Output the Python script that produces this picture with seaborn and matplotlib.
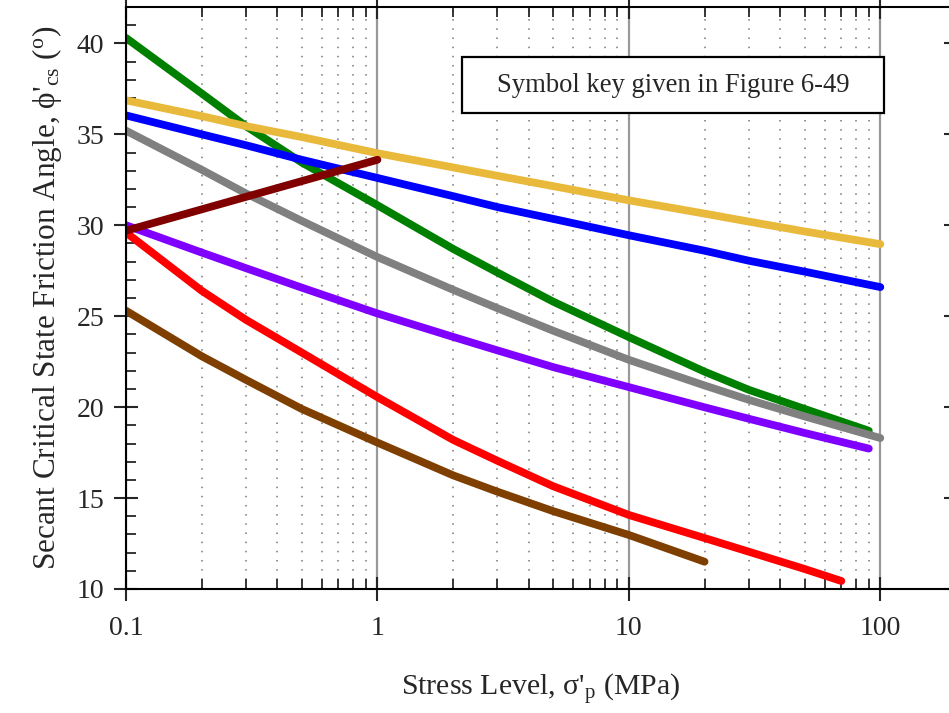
import numpy as np
import pandas as pd
import matplotlib
matplotlib.use("Agg")
import matplotlib.pyplot as plt
from matplotlib.patches import Rectangle
from matplotlib.ticker import LogLocator, FixedLocator, NullFormatter, FuncFormatter, MultipleLocator
import seaborn as sns

# ---- data: secant critical state friction angle vs. stress level ----
stress = [0.1, 0.2, 0.3, 0.5, 1, 2, 3, 5, 10, 20, 30, 50]

phi_green = [40.3, 37.25, 35.45, 33.45, 31.1, 28.7, 27.4, 25.8, 23.85, 21.95, 20.95, 19.9]
stress_green_end, phi_green_end = 90, 18.7

phi_yellow = [36.87, 36.0, 35.45, 34.85, 33.96, 33.18, 32.72, 32.15, 31.37, 30.64, 30.2, 29.66]
stress_yellow_end, phi_yellow_end = 100, 28.96

phi_blue = [36.04, 35.0, 34.4, 33.6, 32.6, 31.6, 31.0, 30.35, 29.45, 28.6, 28.05, 27.45]
stress_blue_end, phi_blue_end = 100, 26.6

phi_gray = [35.2, 33.05, 31.75, 30.24, 28.25, 26.45, 25.44, 24.2, 22.6, 21.19, 20.4, 19.49]
stress_gray_end, phi_gray_end = 100, 18.3

phi_purple = [30.0, 28.5, 27.64, 26.57, 25.15, 23.86, 23.12, 22.2, 21.1, 19.99, 19.36, 18.58]
stress_purple_end, phi_purple_end = 90, 17.72

phi_red = [29.6, 26.4, 24.8, 23.0, 20.55, 18.2, 17.05, 15.65, 14.07, 12.8, 12.05, 11.1]
stress_red_end, phi_red_end = 70, 10.44

stress_brown = [0.1, 0.2, 0.3, 0.5, 1, 2, 3, 5, 10, 20]
phi_brown = [25.3, 22.8, 21.5, 19.9, 18.05, 16.25, 15.35, 14.28, 12.97, 11.5]

stress_maroon = [0.1, 1]
phi_maroon = [29.7, 33.6]

colors = {
    "green": "#008000",
    "yellow": "#E8B93A",
    "blue": "#0000FF",
    "gray": "#808080",
    "purple": "#8000FF",
    "red": "#FF0000",
    "brown": "#7F3F00",
    "maroon": "#800000",
}

# ---- long-form table for seaborn ----
frames = []
def add(name, xs, ys):
    frames.append(pd.DataFrame({"stress": xs, "phi": ys, "curve": name}))

add("green", stress + [stress_green_end], phi_green + [phi_green_end])
add("yellow", stress + [stress_yellow_end], phi_yellow + [phi_yellow_end])
add("blue", stress + [stress_blue_end], phi_blue + [phi_blue_end])
add("gray", stress + [stress_gray_end], phi_gray + [phi_gray_end])
add("purple", stress + [stress_purple_end], phi_purple + [phi_purple_end])
add("red", stress + [stress_red_end], phi_red + [phi_red_end])
add("brown", stress_brown, phi_brown)
add("maroon", stress_maroon, phi_maroon)
df = pd.concat(frames, ignore_index=True)

sns.set_style("ticks")
plt.rcParams["font.family"] = ["Liberation Serif", "DejaVu Serif"]
plt.rcParams["mathtext.fontset"] = "custom"
plt.rcParams["mathtext.rm"] = "Liberation Serif"
plt.rcParams["mathtext.it"] = "Liberation Serif:italic"

fig = plt.figure(figsize=(9.49, 7.13), dpi=100)
ax = fig.add_axes([126 / 949, 1 - 589 / 713, (956 - 126) / 949, (589 - 7) / 713])

sns.lineplot(
    data=df, x="stress", y="phi", hue="curve", palette=colors,
    hue_order=list(colors.keys()), estimator=None, sort=False,
    linewidth=5.6, legend=False, ax=ax, solid_capstyle="round",
    solid_joinstyle="round", zorder=5,
)

ax.set_xscale("log")
ax.set_xlim(0.1, 200)
ax.set_ylim(10, 42)

# grid: solid at decades, dotted at intermediate values
ax.xaxis.set_major_locator(FixedLocator([0.1, 1, 10, 100]))
ax.xaxis.set_minor_locator(LogLocator(base=10, subs=np.arange(2, 10), numticks=20))
ax.xaxis.set_major_formatter(FuncFormatter(lambda v, p: f"{v:g}"))
ax.xaxis.set_minor_formatter(NullFormatter())
ax.yaxis.set_major_locator(MultipleLocator(5))
ax.yaxis.set_minor_locator(MultipleLocator(1))

ax.grid(which="major", axis="x", color="#999999", linewidth=1.6, zorder=1)
ax.grid(which="minor", axis="x", color="#777777", linewidth=1.1,
        linestyle=(0, (1, 5)), zorder=1)
ax.grid(which="both", axis="y", visible=False)

for s in ax.spines.values():
    s.set_linewidth(1.5)
    s.set_color("black")
    s.set_zorder(6)

ax.tick_params(which="major", axis="x", direction="inout", length=17, width=1.5,
               top=True, labelsize=20, pad=11)
ax.tick_params(which="minor", axis="x", direction="in", length=7, width=1.3, top=True)
ax.tick_params(which="major", axis="y", direction="inout", length=17, width=1.5,
               right=True, labelsize=20, pad=7)
ax.tick_params(which="minor", axis="y", direction="in", length=7, width=1.3, right=False)

ax.set_xlabel("Stress Level, σ'$_{\\mathrm{p}}$ (MPa)", fontsize=21.5, labelpad=22)
ax.set_ylabel("Secant Critical State Friction Angle, ϕ'$_{\\mathrm{cs}}$ ($^{\\mathrm{o}}$)",
              fontsize=22.5, labelpad=9)

# note box
ax.add_patch(Rectangle((336 / 830, 476 / 582), 422 / 830, 56 / 582,
                       transform=ax.transAxes, facecolor="white",
                       edgecolor="black", linewidth=1.6, zorder=7))
ax.text(547 / 830, 504 / 582, "Symbol key given in Figure 6-49", transform=ax.transAxes,
        fontsize=19.2, ha="center", va="center", zorder=8)

fig.savefig("out.png", dpi=100)
